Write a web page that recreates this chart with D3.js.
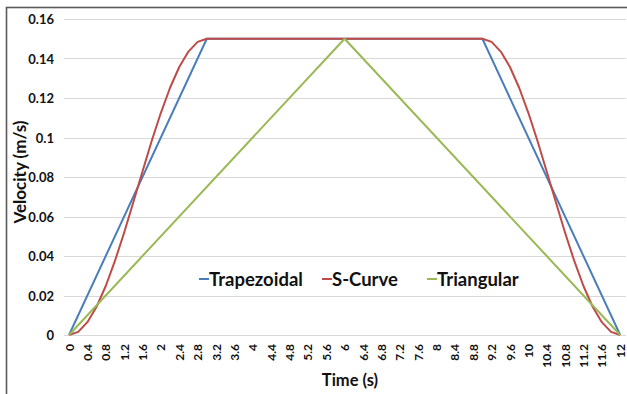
<!DOCTYPE html>
<html>
<head>
<meta charset="utf-8">
<script src="https://cdn.jsdelivr.net/npm/d3@7"></script>
<style>
  html, body { margin: 0; padding: 0; background: #fff; }
  svg { display: block; }
  text { font-family: Lato, "Open Sans", sans-serif; font-weight: bold; fill: #111; }
</style>
</head>
<body>
<svg id="chart" width="627" height="394"></svg>
<script>
// ---- Data ----
const seriesNames = ["Trapezoidal", "S-Curve", "Triangular"];
const seriesColors = ["#4A7EBB", "#BE4B48", "#98B954"];

const trapTime = [0, 3, 9, 12];
const trapVel  = [0, 0.15, 0.15, 0];

const sTime = [0, 0.2, 0.4, 0.6, 0.8, 1.0, 1.2, 1.4, 1.6, 1.8, 2.0, 2.2, 2.4, 2.6, 2.8, 3.0,
               9.0, 9.2, 9.4, 9.6, 9.8, 10.0, 10.2, 10.4, 10.6, 10.8, 11.0, 11.2, 11.4, 11.6, 11.8, 12.0];
const sVel  = [0, 0.0016, 0.0065, 0.0143, 0.0248, 0.0375, 0.0518, 0.0672, 0.0828, 0.0982, 0.1125, 0.1252, 0.1357, 0.1435, 0.1484, 0.15,
               0.15, 0.1484, 0.1435, 0.1357, 0.1252, 0.1125, 0.0982, 0.0828, 0.0672, 0.0518, 0.0375, 0.0248, 0.0143, 0.0065, 0.0016, 0];

const triTime = [0, 6, 12];
const triVel  = [0, 0.15, 0];

const xTickLabels = ["0","0.4","0.8","1.2","1.6","2","2.4","2.8","3.2","3.6","4","4.4","4.8","5.2","5.6","6",
                     "6.4","6.8","7.2","7.6","8","8.4","8.8","9.2","9.6","10","10.4","10.8","11.2","11.6","12"];
const yTickValues = [0, 0.02, 0.04, 0.06, 0.08, 0.1, 0.12, 0.14, 0.16];
const xTitle = "Time (s)";
const yTitle = "Velocity (m/s)";

// ---- Drawing ----
const svg = d3.select("#chart");
const plotLeft = 64, plotRight = 626;

const x = d3.scaleLinear().domain([0, 12]).range([69, 620.2]);
const y = d3.scaleLinear().domain([0, 0.16]).range([335, 19]);

// outer frame
svg.append("rect")
  .attr("x", 6.5).attr("y", 7.5).attr("width", 700).attr("height", 500)
  .attr("fill", "none").attr("stroke", "#5a5a5a").attr("stroke-width", 1.6);

// gridlines
svg.append("g").selectAll("line").data(yTickValues).join("line")
  .attr("x1", plotLeft).attr("x2", plotRight)
  .attr("y1", d => Math.round(y(d)) + 0.5).attr("y2", d => Math.round(y(d)) + 0.5)
  .attr("stroke", "#d9d9d9").attr("stroke-width", 1);

// y axis labels
const yAxis = d3.axisLeft(y).tickValues(yTickValues).tickSize(0).tickPadding(0)
  .tickFormat(d => d3.format("")(+d.toFixed(2)));
const gy = svg.append("g").attr("transform", "translate(54,0)").call(yAxis);
gy.select(".domain").remove();
gy.selectAll("text").attr("font-size", 13).attr("font-family", "Lato, sans-serif")
  .attr("font-weight", "bold").attr("fill", "#111").attr("dy", "0.36em").attr("x", 0);

// x axis labels (rotated)
const xTickVals = xTickLabels.map(Number);
const xAxis = d3.axisBottom(x).tickValues(xTickVals).tickSize(0).tickPadding(0)
  .tickFormat((d, i) => xTickLabels[i]);
const gx = svg.append("g").attr("transform", "translate(0,344)").call(xAxis);
gx.select(".domain").remove();
gx.selectAll("text")
  .attr("font-size", 12).attr("font-family", "Lato, sans-serif").attr("font-weight", "bold").attr("fill", "#111")
  .attr("transform", "rotate(-90)").attr("text-anchor", "end")
  .attr("x", 0).attr("y", 0).attr("dy", "0.34em");

// series lines
const line = d3.line().x(d => x(d[0])).y(d => y(d[1]));
const seriesData = [
  d3.zip(trapTime, trapVel),
  d3.zip(sTime, sVel),
  d3.zip(triTime, triVel)
];
svg.append("g").selectAll("path").data(seriesData).join("path")
  .attr("d", line)
  .attr("fill", "none")
  .attr("stroke", (d, i) => seriesColors[i])
  .attr("stroke-width", 2)
  .attr("stroke-linejoin", "round");

// axis titles
svg.append("text").attr("x", 350).attr("y", 386).attr("text-anchor", "middle")
  .attr("font-size", 16.5).text(xTitle);
svg.append("text").attr("transform", "translate(25.5,172) rotate(-90)").attr("text-anchor", "middle")
  .attr("font-size", 17).text(yTitle);

// legend
const legendX = [199, 322, 427];
const leg = svg.append("g").selectAll("g").data(seriesNames).join("g")
  .attr("transform", (d, i) => `translate(${legendX[i]},279)`);
leg.append("line").attr("x1", 0).attr("x2", 10).attr("y1", 0).attr("y2", 0)
  .attr("stroke", (d, i) => seriesColors[i]).attr("stroke-width", 2);
leg.append("text").attr("x", 10).attr("y", 7).attr("font-size", 18.5).text(d => d);
</script>
</body>
</html>
